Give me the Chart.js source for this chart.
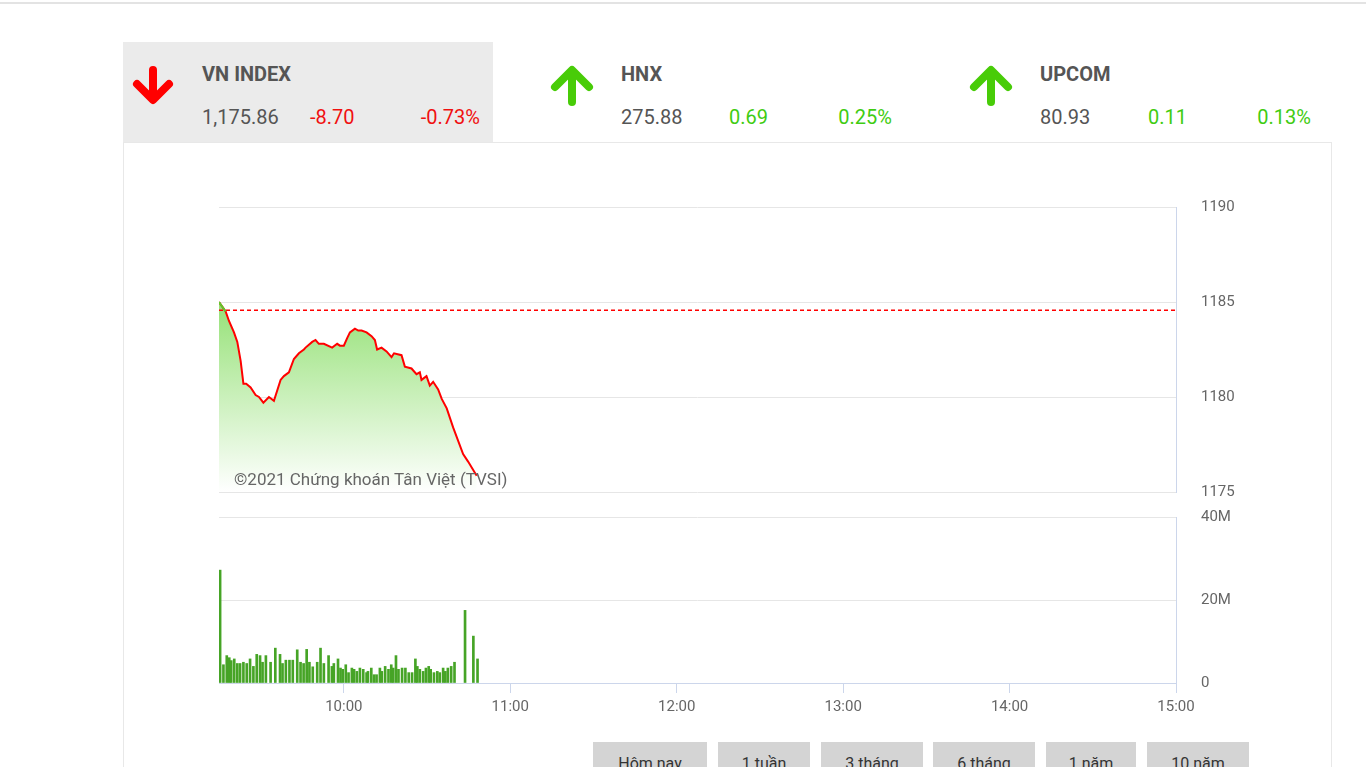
<!DOCTYPE html>
<html>
<head>
<meta charset="utf-8">
<script src="https://cdn.jsdelivr.net/npm/chart.js@4/dist/chart.umd.min.js"></script>
<style>
  body { margin: 0; width: 1366px; height: 767px; overflow: hidden; background: #fff; font-family: Roboto, sans-serif; position: relative; }
  .abs { position: absolute; white-space: nowrap; }
  .topline { left: 0; top: 2px; width: 1366px; height: 2px; background: #e3e3e3; }
  .panel { left: 123px; top: 142px; width: 1207px; height: 700px; border: 1px solid #e8e8e8; background: #fff; }
  .active { left: 123px; top: 42px; width: 370px; height: 100px; background: #ebebeb; }
  .name { font-size: 20px; font-weight: bold; color: #555; line-height: 20px; top: 64px; }
  .val { font-size: 20px; color: #555; line-height: 20px; top: 107px; }
  .up { color: #3fcc12; }
  .down { color: #f01010; }
  .r { text-align: right; width: 100px; }
  .btn { top: 742px; height: 38px; line-height: 44px; background: #d4d4d4; color: #333; font-size: 16px; text-align: center; overflow: hidden; }
  .mark { left: 234px; top: 471px; font-size: 17px; line-height: 17px; color: #666; z-index: 5; }
  canvas { position: absolute; }
</style>
</head>
<body>
<div class="abs topline"></div>
<div class="abs panel"></div>
<div class="abs active"></div>

<svg class="abs" style="left:0;top:0" width="1366" height="150">
  <g fill="none" stroke-width="8" stroke-linecap="round" stroke-linejoin="round">
    <path d="M153 70 V99 M137 84 L153 100 L169 84" stroke="#f00"/>
    <path d="M572 71 V102 M555 87 L572 70 L589 87" stroke="#48cc08"/>
    <path d="M991 71 V102 M974 87 L991 70 L1008 87" stroke="#48cc08"/>
  </g>
</svg>

<div class="abs name" style="left:202px">VN INDEX</div>
<div class="abs val" style="left:202px">1,175.86</div>
<div class="abs val down" style="left:310px">-8.70</div>
<div class="abs val down r" style="left:380px">-0.73%</div>

<div class="abs name" style="left:621px">HNX</div>
<div class="abs val" style="left:621px">275.88</div>
<div class="abs val up" style="left:729px">0.69</div>
<div class="abs val up r" style="left:792px">0.25%</div>

<div class="abs name" style="left:1040px">UPCOM</div>
<div class="abs val" style="left:1040px">80.93</div>
<div class="abs val up" style="left:1148px">0.11</div>
<div class="abs val up r" style="left:1211px">0.13%</div>

<canvas id="price" width="1100" height="320" style="left:200px;top:190px"></canvas>
<canvas id="volume" width="1100" height="230" style="left:200px;top:500px"></canvas>
<div class="abs mark">©2021 Chứng khoán Tân Việt (TVSI)</div>

<div class="abs btn" style="left:593px;width:114px">Hôm nay</div>
<div class="abs btn" style="left:718px;width:92px">1 tuần</div>
<div class="abs btn" style="left:821px;width:102px">3 tháng</div>
<div class="abs btn" style="left:933px;width:102px">6 tháng</div>
<div class="abs btn" style="left:1046px;width:90px">1 năm</div>
<div class="abs btn" style="left:1147px;width:102px">10 năm</div>

<script>
// gia tri doc tu bieu do (phut tinh tu 9:00)
var refClose = 1184.56;

var priceTimes = [15.0, 17.4, 18.6, 20.4, 21.6, 22.8, 23.8, 24.8, 26.4, 28.2, 29.4, 31.0, 33.0, 34.8,
    37.2, 38.4, 40.2, 42.0, 43.8, 45.6, 46.2, 48.6, 49.8, 51.0, 52.8, 55.8, 57.6, 58.6, 60.0,
    61.2, 62.2, 64.0, 65.2, 66.4, 68.2, 70.0, 71.2, 72.0, 73.6, 75.4, 77.2, 78.1, 80.8, 82.0,
    84.4, 86.2, 87.4, 88.0, 89.8, 91.0, 92.2, 94.0, 95.3, 97.1, 99.4, 103.0, 104.8, 107.9];
var priceValues = [1185.0, 1184.5, 1184.0, 1183.4, 1182.9, 1181.9, 1180.7, 1180.7, 1180.5, 1180.1, 1180.0, 1179.7, 1180.0, 1179.8,
    1180.9, 1181.1, 1181.3, 1182.0, 1182.3, 1182.5, 1182.6, 1182.9, 1183.0, 1182.8, 1182.8, 1182.6, 1182.8, 1182.7, 1182.7,
    1183.1, 1183.4, 1183.6, 1183.5, 1183.5, 1183.4, 1183.2, 1183.0, 1182.5, 1182.6, 1182.4, 1182.1, 1182.3, 1182.2, 1181.6,
    1181.5, 1181.2, 1181.3, 1180.9, 1181.1, 1180.6, 1180.8, 1180.4, 1179.9, 1179.4, 1178.4, 1177.0, 1176.6, 1175.86];

var volTimes = [15.4, 16.6, 17.8, 18.7, 19.4, 20.5, 21.6, 22.6, 23.8, 25.0, 26.2, 27.4, 28.6, 29.8, 30.7, 31.9,
    33.6, 35.3, 37.0, 37.9, 39.1, 40.4, 41.6, 43.2, 44.4, 45.5, 46.6, 47.6, 48.8, 50.4, 51.6, 52.8,
    54.5, 55.7, 56.4, 57.9, 58.8, 59.6, 60.7, 61.7, 62.9, 63.7, 64.7, 65.8, 67.0, 68.2, 68.7, 69.9,
    70.9, 71.8, 73.0, 73.7, 74.9, 76.1, 77.1, 77.8, 78.8, 79.7, 81.0, 82.2, 83.4, 84.6, 85.8, 86.5,
    87.4, 88.6, 89.6, 90.6, 91.3, 92.5, 93.7, 94.6, 95.8, 96.6, 97.5, 98.7, 99.9, 103.7, 106.7, 108.2];
var volValues = [27.2, 4.4, 6.6, 6.1, 5.4, 5.8, 4.7, 4.7, 5.0, 4.7, 5.8, 4.0, 6.9, 6.6, 5.0, 6.6,
    5.0, 8.4, 6.9, 4.7, 5.5, 5.5, 5.5, 8.0, 5.0, 4.7, 8.1, 5.0, 3.9, 5.0, 8.4, 4.7,
    6.6, 4.0, 4.7, 5.8, 3.6, 3.3, 4.4, 2.5, 3.6, 3.3, 2.8, 3.6, 3.3, 2.5, 2.8, 3.6,
    2.0, 2.0, 3.6, 2.8, 4.0, 3.3, 4.4, 3.6, 6.6, 3.3, 3.6, 3.6, 2.5, 2.5, 5.8, 4.0,
    3.3, 2.8, 3.6, 4.0, 3.3, 2.5, 2.8, 2.5, 3.6, 2.8, 3.6, 4.0, 5.0, 17.5, 11.3, 5.8];

var priceTicks = [1175, 1180, 1185, 1190];
var volTicks = [0, 20, 40];
var hourTicks = [60, 120, 180, 240, 300, 360];

Chart.defaults.font.family = "Roboto";
Chart.defaults.font.size = 15;
Chart.defaults.color = "#666";

var gridColor = "#e6e6e6";
var axisColor = "#ccd6eb";

var pricePts = priceTimes.map(function (t, i) { return {x: t, y: priceValues[i]}; });
var volPts = volTimes.map(function (t, i) { return {x: t, y: volValues[i]}; });

new Chart(document.getElementById("price"), {
    type: "line",
    data: {
        datasets: [{
            // doan tren gia tham chieu: mau xanh
            data: pricePts.slice(0, 2),
            borderColor: "#5ccc2c",
            borderWidth: 2,
            pointRadius: 0,
            fill: false,
            order: 0
        }, {
            data: [{x: 15, y: refClose}, {x: 360, y: refClose}],
            borderColor: "#f00",
            borderWidth: 1.5,
            borderDash: [4, 3],
            pointRadius: 0,
            fill: false,
            order: 1
        }, {
            data: pricePts,
            borderColor: "#f00",
            borderWidth: 2,
            pointRadius: 0,
            tension: 0,
            fill: "start",
            order: 2,
            backgroundColor: function (c) {
                var a = c.chart.chartArea;
                if (!a) return "rgba(96,210,50,0.5)";
                var g = c.chart.ctx.createLinearGradient(0, a.top, 0, a.bottom);
                g.addColorStop(0, "rgb(96,210,50)");
                g.addColorStop(1, "rgba(255,255,255,1)");
                return g;
            }
        }]
    },
    options: {
        responsive: false,
        animation: false,
        layout: {padding: {left: 19, top: 17, bottom: 18, right: 0}},
        plugins: {legend: {display: false}, tooltip: {enabled: false}},
        scales: {
            x: {type: "linear", min: 15, max: 360, display: false},
            y: {
                position: "right",
                min: 1175,
                max: 1190,
                afterBuildTicks: function (s) { s.ticks = priceTicks.map(function (v) { return {value: v}; }); },
                afterFit: function (s) { s.width = 124; },
                ticks: {padding: 0, callback: function (v) { return String(v); }},
                grid: {color: gridColor, drawTicks: true, tickLength: 25, tickColor: "rgba(0,0,0,0)"},
                border: {display: true, color: axisColor}
            }
        }
    }
});

new Chart(document.getElementById("volume"), {
    type: "bar",
    data: {
        datasets: [{
            data: volPts,
            backgroundColor: "#46a426",
            barThickness: 2
        }]
    },
    options: {
        responsive: false,
        animation: false,
        layout: {padding: {left: 19, top: 17, bottom: 9, right: 0}},
        plugins: {legend: {display: false}, tooltip: {enabled: false}},
        scales: {
            x: {
                type: "linear",
                min: 15,
                max: 360,
                offset: false,
                afterBuildTicks: function (s) { s.ticks = hourTicks.map(function (v) { return {value: v}; }); },
                ticks: {autoSkip: false, maxRotation: 0, padding: 5,
                    callback: function (v) { return (9 + v / 60) + ":00"; }},
                grid: {drawOnChartArea: false, drawTicks: true, tickLength: 10, color: axisColor, offset: false},
                border: {display: true, color: axisColor}
            },
            y: {
                position: "right",
                min: 0,
                max: 40,
                afterBuildTicks: function (s) { s.ticks = volTicks.map(function (v) { return {value: v}; }); },
                afterFit: function (s) { s.width = 124; },
                ticks: {padding: 0, callback: function (v) { return v === 0 ? "0" : v + "M"; }},
                grid: {color: function (c) { return c.tick && c.tick.value === 0 ? "rgba(0,0,0,0)" : gridColor; },
                    drawTicks: true, tickLength: 25, tickColor: "rgba(0,0,0,0)"},
                border: {display: true, color: axisColor}
            }
        }
    }
});
</script>
</body>
</html>
